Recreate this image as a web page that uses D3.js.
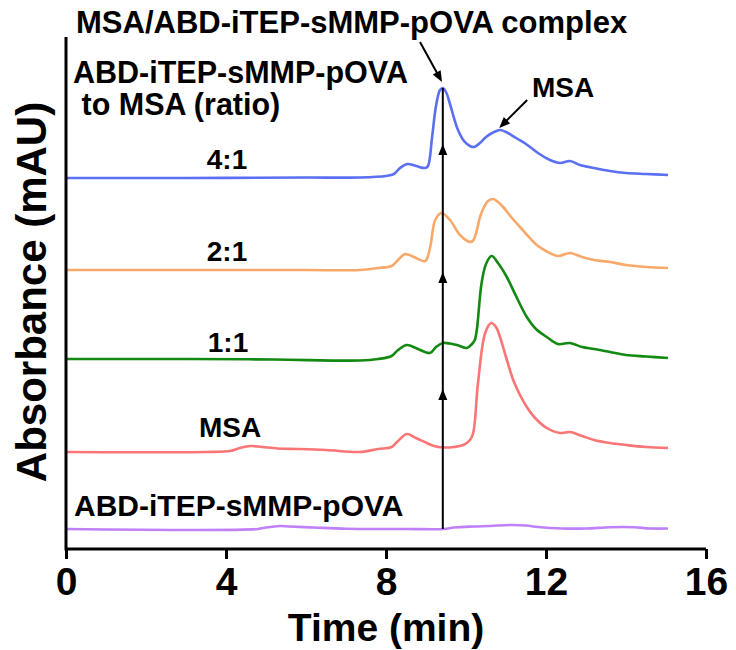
<!DOCTYPE html>
<html>
<head>
<meta charset="utf-8">
<script src="https://cdn.jsdelivr.net/npm/d3@7/dist/d3.min.js"></script>
<style>
  body { margin: 0; background: #fff; }
  svg { display: block; font-family: "Liberation Sans", Arial, sans-serif; font-weight: bold; }
</style>
</head>
<body>
<svg width="736" height="650"></svg>
<script>
// retention time (min) and absorbance above each trace's own baseline (mAU)
const ratio41Time = [0, 3, 6, 7.35, 8.0, 8.2, 8.35, 8.53, 8.75, 8.98, 9.05, 9.15, 9.25, 9.35, 9.42, 9.5, 9.6, 9.7, 9.8, 9.95, 10.1, 10.2, 10.35, 10.5, 10.7, 10.85, 11.0, 11.25, 11.5, 11.8, 12.1, 12.35, 12.6, 12.85, 13.2, 13.6, 14.0, 14.5, 15.05];
const ratio41Abs = [0, 0, 0.5, 0.5, 2, 4, 10, 14, 12, 10, 12, 40, 72, 88, 90, 86, 74, 60, 48, 37, 32, 31, 35, 41, 46, 48, 46, 40, 34, 25, 18, 15, 17, 13, 10, 7, 5, 4, 3];

const ratio21Time = [0, 3, 6, 7.35, 7.8, 8.14, 8.3, 8.48, 8.7, 8.98, 9.1, 9.23, 9.39, 9.6, 9.85, 10.1, 10.18, 10.26, 10.35, 10.45, 10.55, 10.68, 10.8, 10.93, 11.15, 11.35, 11.77, 12.0, 12.3, 12.6, 12.9, 13.2, 13.6, 14.0, 14.5, 15.05];
const ratio21Abs = [0, 0, 0, 0, 2, 4, 10, 16, 13, 9, 22, 50, 57, 50, 35, 28, 29.5, 38, 53, 63, 69, 71, 68, 63, 52, 43, 25, 19, 14, 17, 13, 10, 8, 5, 3, 2];

const ratio11Time = [0, 3, 5.2, 7.35, 7.8, 8.14, 8.3, 8.52, 8.8, 9.1, 9.25, 9.43, 9.77, 10.02, 10.15, 10.22, 10.27, 10.39, 10.5, 10.64, 10.8, 11.02, 11.25, 11.52, 11.75, 12.02, 12.3, 12.6, 12.9, 13.2, 13.6, 14.0, 14.5, 15.05];
const ratio11Abs = [0, 0, -0.5, -1.5, 0, 3, 9, 14, 10, 6, 12, 16, 14, 11, 15, 19, 29, 76, 95, 103, 96, 82, 63, 42, 30, 22, 15, 16, 12, 10, 7, 4, 2.5, 1];

const msaTime = [0, 3.5, 4.1, 4.35, 4.6, 4.9, 5.3, 5.8, 6.5, 7.35, 7.8, 8.14, 8.3, 8.52, 8.75, 9.02, 9.2, 9.43, 9.7, 9.93, 10.1, 10.18, 10.3, 10.48, 10.63, 10.75, 10.85, 11.0, 11.18, 11.35, 11.52, 11.75, 12.02, 12.35, 12.6, 12.9, 13.2, 13.6, 14.0, 14.5, 15.05];
const msaAbs = [0, 0, 1, 4, 6, 5, 3.5, 3, 2, 0, 3, 5, 11, 18, 14, 9, 6, 4.5, 5, 7, 12, 19, 69, 119, 129, 125, 115, 95, 72, 57, 45, 33, 24, 19, 20, 16, 12, 9, 7, 5, 4];

const peptideTime = [0, 4.8, 5.0, 5.35, 5.6, 6.2, 7.0, 8.5, 9.45, 9.7, 10.2, 10.6, 11.1, 11.5, 11.8, 12.4, 13.0, 13.6, 14.2, 14.6, 15.05];
const peptideAbs = [0, 0, 1.5, 3, 2.5, 1.5, 0.3, 0, 0, 1.5, 2.5, 3, 4, 3.5, 2, 0.5, 0.5, 1.8, 1.8, 0.5, 0.5];

const traceLabels = ["4:1", "2:1", "1:1", "MSA", "ABD-iTEP-sMMP-pOVA"];
const traceOffsets = [371, 279, 190, 97, 20];
const traceColors = ["#5a6ff2", "#f8a868", "#128a12", "#fa7575", "#c080fa"];

const xTicks = [0, 4, 8, 12, 16];
const complexTime = 9.42;
const complexArrowHeads = [405, 277, 160];

const svg = d3.select("svg");

const x = d3.scaleLinear().domain([0, 16]).range([66, 706]);
const y = d3.scaleLinear().domain([0, 512]).range([549, 37]);

const traces = [
  { time: ratio41Time, abs: ratio41Abs },
  { time: ratio21Time, abs: ratio21Abs },
  { time: ratio11Time, abs: ratio11Abs },
  { time: msaTime, abs: msaAbs },
  { time: peptideTime, abs: peptideAbs },
].map((t, i) => ({
  label: traceLabels[i],
  offset: traceOffsets[i],
  color: traceColors[i],
  points: t.time.map((tm, j) => [tm, t.abs[j]]),
}));

const line = (offset) =>
  d3
    .line()
    .x((d) => x(d[0]))
    .y((d) => y(d[1] + offset))
    .curve(d3.curveCatmullRom.alpha(0.5));

svg
  .append("g")
  .selectAll("path")
  .data(traces)
  .enter()
  .append("path")
  .attr("fill", "none")
  .attr("stroke", (d) => d.color)
  .attr("stroke-width", 2.6)
  .attr("stroke-linejoin", "round")
  .attr("d", (d) => line(d.offset)(d.points));

// vertical marker through the complex peak
const peakTop = traceOffsets[0] + d3.max(ratio41Abs);
svg
  .append("line")
  .attr("x1", x(complexTime))
  .attr("x2", x(complexTime))
  .attr("y1", y(traceOffsets[4]))
  .attr("y2", y(peakTop))
  .attr("stroke", "#000")
  .attr("stroke-width", 2);

svg
  .append("g")
  .selectAll("path")
  .data(complexArrowHeads)
  .enter()
  .append("path")
  .attr("d", "M0,0L-4.5,11L4.5,11Z")
  .attr("fill", "#000")
  .attr("transform", (d) => `translate(${x(complexTime)},${y(d)})`);

// axes
const xAxis = d3.axisBottom(x).tickValues(xTicks).tickSize(10).tickPadding(8);
const gx = svg.append("g").attr("transform", `translate(0,${y(0)})`).call(xAxis);
gx.select(".domain").attr("stroke-width", 3).attr("d", `M${x(0)},0H${x(16)}`);
gx.selectAll(".tick line").attr("stroke-width", 3);
gx.selectAll(".tick text")
  .attr("font-size", 39)
  .attr("font-weight", "bold")
  .attr("font-family", "'Liberation Sans', Arial, sans-serif")
  .attr("fill", "#000");

svg
  .append("line")
  .attr("x1", x(0))
  .attr("x2", x(0))
  .attr("y1", y(0) + 1.5)
  .attr("y2", y(512))
  .attr("stroke", "#000")
  .attr("stroke-width", 3);

svg
  .append("text")
  .attr("x", 386)
  .attr("y", 641)
  .attr("text-anchor", "middle")
  .attr("font-size", 39)
  .text("Time (min)");

svg
  .append("text")
  .attr("transform", "translate(46,292) rotate(-90)")
  .attr("text-anchor", "middle")
  .attr("font-size", 42)
  .text("Absorbance (mAU)");

// labels
const labelPos = [
  { x: 227, y: 169, size: 28, anchor: "middle" },
  { x: 227, y: 261, size: 28, anchor: "middle" },
  { x: 228, y: 352, size: 28, anchor: "middle" },
  { x: 230, y: 437, size: 28, anchor: "middle" },
  { x: 74, y: 516, size: 30, anchor: "start" },
];
svg
  .append("g")
  .selectAll("text")
  .data(traces)
  .enter()
  .append("text")
  .attr("x", (d, i) => labelPos[i].x)
  .attr("y", (d, i) => labelPos[i].y)
  .attr("font-size", (d, i) => labelPos[i].size)
  .attr("text-anchor", (d, i) => labelPos[i].anchor)
  .text((d) => d.label);

svg.append("text").attr("x", 76).attr("y", 33).attr("font-size", 31)
  .text("MSA/ABD-iTEP-sMMP-pOVA complex");
svg.append("text").attr("x", 73).attr("y", 83).attr("font-size", 30.5)
  .text("ABD-iTEP-sMMP-pOVA");
svg.append("text").attr("x", 73).attr("y", 115).attr("font-size", 30.5)
  .attr("xml:space", "preserve").text(" to MSA (ratio)");
svg.append("text").attr("x", 532).attr("y", 97).attr("font-size", 28).text("MSA");

// pointer arrows, in data coordinates
const pointers = [
  { from: [8.85, 507], to: [9.4, 467] },
  { from: [11.53, 449], to: [10.83, 421] },
];
pointers.forEach((p) => {
  const x1 = x(p.from[0]), y1 = y(p.from[1]);
  const x2 = x(p.to[0]), y2 = y(p.to[1]);
  const ang = (Math.atan2(y2 - y1, x2 - x1) * 180) / Math.PI;
  const len = Math.hypot(x2 - x1, y2 - y1);
  const g = svg.append("g").attr("transform", `translate(${x1},${y1}) rotate(${ang})`);
  g.append("line").attr("x1", 0).attr("y1", 0).attr("x2", len - 8).attr("y2", 0)
    .attr("stroke", "#000").attr("stroke-width", 2);
  g.append("path").attr("d", `M${len},0L${len - 11},-4.5L${len - 11},4.5Z`).attr("fill", "#000");
});
</script>
</body>
</html>
